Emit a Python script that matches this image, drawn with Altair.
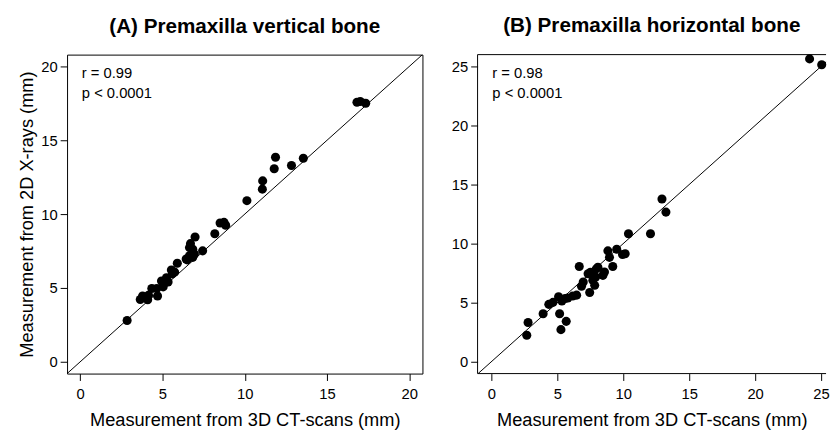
import altair as alt
import pandas as pd

# Panel A: premaxilla vertical bone (mm)
a_ct = [2.85, 3.65, 3.79, 4.1, 4.15, 4.35, 4.65, 4.7, 4.94, 5.04, 5.1, 5.24, 5.34, 5.54, 5.6,
        5.74, 5.9, 6.44, 6.5, 6.64, 6.7, 6.64, 6.84, 6.84, 6.94, 6.98, 7.44, 8.18, 8.5, 8.74,
        8.84, 10.13, 11.07, 11.09, 11.79, 11.87, 12.84, 13.56, 16.82, 17.02, 17.35]
a_xr = [2.8, 4.22, 4.45, 4.2, 4.5, 4.96, 4.96, 4.45, 5.47, 5.07, 5.3, 5.69, 5.4, 6.22, 5.95,
        6.07, 6.67, 6.96, 6.9, 7.18, 8.0, 7.73, 7.62, 7.07, 7.3, 8.45, 7.51, 8.67, 9.4, 9.44,
        9.24, 10.91, 11.69, 12.25, 13.07, 13.85, 13.29, 13.78, 17.58, 17.62, 17.51]

# Panel B: premaxilla horizontal bone (mm)
b_ct = [2.69, 2.79, 3.93, 4.36, 4.68, 5.1, 5.18, 5.28, 5.35, 5.6, 5.68, 5.8, 6.17, 6.47, 6.67,
        6.84, 6.97, 7.34, 7.46, 7.52, 7.7, 7.71, 7.84, 7.91, 7.96, 8.08, 8.46, 8.58, 8.84, 8.96,
        9.21, 9.51, 9.95, 10.15, 10.4, 12.07, 12.94, 13.24, 24.13, 25.05]
b_xr = [2.25, 3.33, 4.06, 4.86, 5.03, 5.5, 4.06, 2.72, 5.14, 5.36, 3.42, 5.4, 5.56, 5.64, 8.06,
        6.39, 6.75, 7.45, 5.86, 7.58, 6.9, 7.31, 6.47, 7.17, 7.86, 8.0, 7.31, 7.6, 9.39, 8.84,
        8.06, 9.53, 9.08, 9.14, 10.83, 10.83, 13.78, 12.67, 25.64, 25.14]

a_ticks = [0, 5, 10, 15, 20]
b_ticks = [0, 5, 10, 15, 20, 25]
a_xdom = [-0.8, 20.8]
a_ydom = [-0.8, 20.8]
b_xdom = [-1.04, 25.38]
b_ydom = [-1.0, 26.0]

titles = ["(A) Premaxilla vertical bone", "(B) Premaxilla horizontal bone"]
stats = ["r = 0.99\np < 0.0001", "r = 0.98\np < 0.0001"]
x_title = "Measurement from 3D CT-scans (mm)"
y_title = "Measurement from 2D X-rays (mm)"

FONT = "Liberation Sans"
H = 324


def panel(ct, xr, xdom, ydom, ticks, w, title, stat, ytitle, full_box):
    df = pd.DataFrame({"ct": ct, "xr": xr})
    xs = alt.Scale(domain=xdom, nice=False, zero=False)
    ys = alt.Scale(domain=ydom, nice=False, zero=False)
    xax = alt.Axis(values=ticks, title=x_title, format="d", labelPadding=6, titlePadding=10)
    if ytitle:
        yax = alt.Axis(values=ticks, title=y_title, format="d", titlePadding=4)
    else:
        yax = alt.Axis(values=ticks, title=None, format="d")
    pts = alt.Chart(df).mark_circle(size=85, color="black", opacity=1).encode(
        x=alt.X("ct:Q", scale=xs, axis=xax),
        y=alt.Y("xr:Q", scale=ys, axis=yax),
    )
    lo = min(xdom[0], ydom[0])
    hi = max(xdom[1], ydom[1])
    ident = pd.DataFrame({"ct": [lo, hi], "xr": [lo, hi]})
    line = alt.Chart(ident).mark_line(color="black", strokeWidth=1, clip=True).encode(
        x=alt.X("ct:Q", scale=xs), y=alt.Y("xr:Q", scale=ys)
    )
    txt = alt.Chart(pd.DataFrame({"s": [stat]})).mark_text(
        align="left", baseline="alphabetic", fontSize=15, font=FONT, color="black",
        lineBreak="\n", lineHeight=20, x=15, y=24,
    ).encode(text="s:N")
    layers = [line, pts, txt]
    if not full_box:
        edge = pd.DataFrame({"k": [0]})
        layers.append(alt.Chart(edge).mark_rule(color="black", strokeWidth=1).encode(
            x=alt.value(0), y=alt.value(0), y2=alt.value(H)))
        layers.append(alt.Chart(edge).mark_rule(color="black", strokeWidth=1).encode(
            x=alt.value(0), x2=alt.value(w), y=alt.value(0)))
        layers.append(alt.Chart(edge).mark_rule(color="black", strokeWidth=1).encode(
            x=alt.value(0), x2=alt.value(w), y=alt.value(H)))
    ch = alt.layer(*layers).properties(
        width=w, height=H,
        title=alt.TitleParams(title, fontSize=21, fontWeight="bold", font=FONT, color="black",
                              anchor="middle", frame="group", offset=1, baseline="alphabetic"),
    )
    if not full_box:
        ch = ch.properties(view=alt.ViewBackground(stroke="transparent"))
    return ch


left = panel(a_ct, a_xr, a_xdom, a_ydom, a_ticks, 361, titles[0], stats[0], True, True)
right = panel(b_ct, b_xr, b_xdom, b_ydom, b_ticks, 354, titles[1], stats[1], False, False)

chart = alt.hconcat(left, right, spacing=56, bounds="flush").properties(
    padding={"left": 9, "top": 4, "right": 0, "bottom": 0},
    background="white",
).configure_view(stroke="black", strokeWidth=1).configure_axis(
    domain=False, grid=False, ticks=True, tickSize=7, tickColor="black", tickWidth=1,
    labelFont=FONT, labelFontSize=15, labelColor="black", labelPadding=3,
    titleFont=FONT, titleFontSize=18.5, titleFontWeight="normal", titleColor="black",
)

chart.save("out.html", embed_options={"renderer": "svg", "actions": False})
